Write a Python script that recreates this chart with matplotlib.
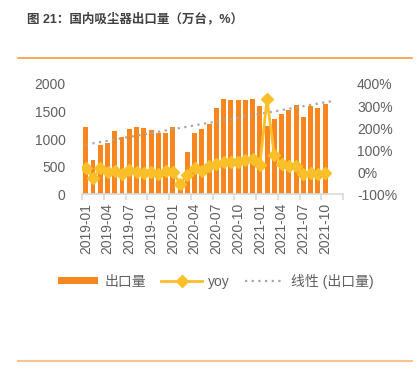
import matplotlib.pyplot as plt
import numpy as np

plt.rcParams['font.family'] = ['Liberation Sans', 'Noto Sans CJK SC', 'DejaVu Sans']

# monthly categories 2019-01 .. 2021-12 (last two months without data)
months = [f"{y}-{m:02d}" for y in (2019, 2020, 2021) for m in range(1, 13)]
exports = [1220, 625, 897, 928, 1152, 1030, 1183, 1212, 1194, 1165, 1103, 1103,
           1225, 120, 764, 1110, 1188, 1280, 1565, 1734, 1704, 1704, 1716, 1734,
           1595, 1230, 1358, 1462, 1522, 1625, 1395, 1607, 1565, 1643]
yoy = [18, -25, 17, 0, 7, -8, 10, 2, -2, 0, -8, 4,
       1, -52, -13, 20, 5, 28, 36, 45, 45, 48, 55, 58,
       33, 330, 78, 36, 30, 30, -10, -5, -6, -2]

orange = '#F7861E'
gold = '#FBBF2A'
grey = '#606060'

fig = plt.figure(figsize=(4.17, 3.69), dpi=100)
ax = fig.add_axes([0.197, 0.4734, 0.626, 0.299])
ax2 = ax.twinx()

x = np.arange(len(exports))
ax.bar(x, exports, width=0.68, color=orange, label='出口量', zorder=2)

# linear trend of the export series, extended to the end of the axis
k, b = np.polyfit(x, exports, 1)
xt = np.arange(0, len(months) - 1)
ax.plot(xt, k * xt + b, linestyle=(0, (1, 2)), color='#A6A6A6', lw=1.6,
        label='线性 (出口量)', zorder=3)

ax2.plot(x, yoy, color=gold, lw=2, marker='D', markersize=6.5,
         label='yoy', zorder=4)

ax.set_xlim(-0.5, len(months) - 0.5)
ax.set_ylim(0, 2000)
ax.set_yticks([0, 500, 1000, 1500, 2000])
ax2.set_ylim(-100, 400)
ax2.set_yticks([-100, 0, 100, 200, 300, 400])
ax2.set_yticklabels([f"{v}%" for v in range(-100, 401, 100)])

ax.set_xticks(x[::3])
ax.set_xticklabels([months[i] for i in x[::3]], rotation=90)
ax.set_xticks(np.arange(-0.5, len(months), 3), minor=True)

for a in (ax, ax2):
    for s in a.spines.values():
        s.set_visible(False)
    a.tick_params(axis='y', length=0, labelsize=10, labelcolor=grey)
ax.spines['bottom'].set_visible(True)
ax.spines['bottom'].set_color('#D9D9D9')
ax.spines['bottom'].set_linewidth(1.2)
ax.tick_params(axis='x', which='major', length=0, labelsize=10, labelcolor=grey, pad=6)
ax.tick_params(axis='x', which='minor', length=4, color='#D9D9D9', width=1.2)
ax.tick_params(axis='y', pad=12)
ax2.tick_params(axis='y', pad=10)

h1, l1 = ax.get_legend_handles_labels()
h2, l2 = ax2.get_legend_handles_labels()
handles = [h1[1], h2[0], h1[0]]
labels = [l1[1], l2[0], l1[0]]
fig.legend(handles, labels, loc='center', bbox_to_anchor=(0.518, 0.238), ncol=3,
           frameon=False, fontsize=10, handlelength=2.9, handleheight=0.4,
           columnspacing=1.1, handletextpad=0.45, labelcolor=grey)

fig.text(0.065, 1 - 19.5 / 369, '图 21：国内吸尘器出口量（万台，%）', fontsize=9,
         color='#404040', fontweight='bold', va='center', ha='left')
fig.add_artist(plt.Line2D([18 / 417, 412 / 417], [1 - 58.3 / 369] * 2,
                          color='#F79A3E', lw=1.2))
fig.add_artist(plt.Line2D([18 / 417, 412 / 417], [1 - 361 / 369] * 2,
                          color='#F9C490', lw=1.5))

fig.savefig('out.png', dpi=100)
